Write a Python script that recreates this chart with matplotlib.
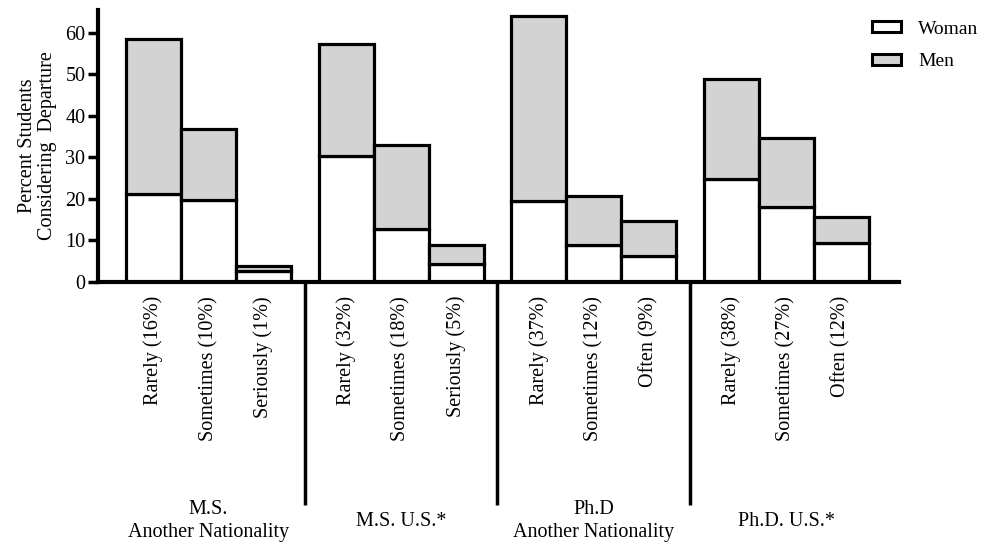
import matplotlib
matplotlib.use("Agg")
import matplotlib.pyplot as plt
import matplotlib.transforms as mtransforms
from matplotlib.patches import Patch

plt.rcParams['font.family'] = ['Liberation Serif', 'DejaVu Serif']

groups = ["M.S.\nAnother Nationality", "M.S. U.S.*", "Ph.D\nAnother Nationality", "Ph.D. U.S.*"]
categories = [
    "Rarely (16%)", "Sometimes (10%)", "Seriously (1%)",
    "Rarely (32%)", "Sometimes (18%)", "Seriously (5%)",
    "Rarely (37%)", "Sometimes (12%)", "Often (9%)",
    "Rarely (38%)", "Sometimes (27%)", "Often (12%)",
]
woman = [21.3, 19.8, 2.6, 30.4, 12.8, 4.3, 19.5, 9.0, 6.3, 24.7, 18.1, 9.4]
total = [58.5, 36.9, 3.9, 57.3, 33.0, 8.8, 64.1, 20.6, 14.7, 48.8, 34.6, 15.7]
men = [t - w for t, w in zip(total, woman)]
yticks = [0, 10, 20, 30, 40, 50, 60]

FS = 14.5
W, H = 983, 544
fig = plt.figure(figsize=(W / 100, H / 100), dpi=100)
ax = fig.add_axes([98 / W, 1 - 282 / H, (899 - 98) / W, (282 - 10) / H])

# positions: 3 bars per group, 0.5 gap between groups
pos = []
for g in range(len(groups)):
    for i in range(3):
        pos.append(g * 3.5 + i)

lw = 2.3
ax.bar(pos, woman, width=1.0, color='white', edgecolor='black', linewidth=lw, label='Woman', zorder=2)
ax.bar(pos, men, bottom=woman, width=1.0, color='#d3d3d3', edgecolor='black', linewidth=lw, label='Men', zorder=2)

ax.set_xlim(-1.01, 13.55)
ax.set_ylim(0, 65.5)
ax.set_yticks(yticks)
ax.set_xticks(pos)
ax.set_xticklabels(categories, rotation=90, fontsize=FS, va='top', ha='center')
ax.tick_params(axis='x', length=0, pad=10)
ax.tick_params(axis='y', length=7, width=2.5, labelsize=FS, pad=2)

for s in ['top', 'right']:
    ax.spines[s].set_visible(False)
for s in ['left', 'bottom']:
    ax.spines[s].set_linewidth(3)

ax.set_ylabel("Percent Students\nConsidering  Departure", fontsize=FS, labelpad=6, linespacing=1.1)

# group dividers and group labels
trans = mtransforms.blended_transform_factory(ax.transData, ax.transAxes)
for g in range(1, len(groups)):
    xd = g * 3.5 - 0.75
    ax.plot([xd, xd], [0, -0.82], transform=trans, color='black', linewidth=2.5, clip_on=False, solid_capstyle='butt')
for g, name in enumerate(groups):
    ax.text(g * 3.5 + 1, -0.88, name, transform=trans, ha='center', va='center', fontsize=FS, linespacing=1.3)

handles = [Patch(facecolor='white', edgecolor='black', linewidth=2.2, label='Woman'),
           Patch(facecolor='#d3d3d3', edgecolor='black', linewidth=2.2, label='Men')]
fig.legend(handles=handles, loc='upper left', bbox_to_anchor=(860 / W, 1 - 9 / H), frameon=False,
           fontsize=14, handlelength=1.5, handleheight=0.5, labelspacing=0.8, handletextpad=0.9,
           borderaxespad=0.2)

fig.savefig('out.png', dpi=100)
